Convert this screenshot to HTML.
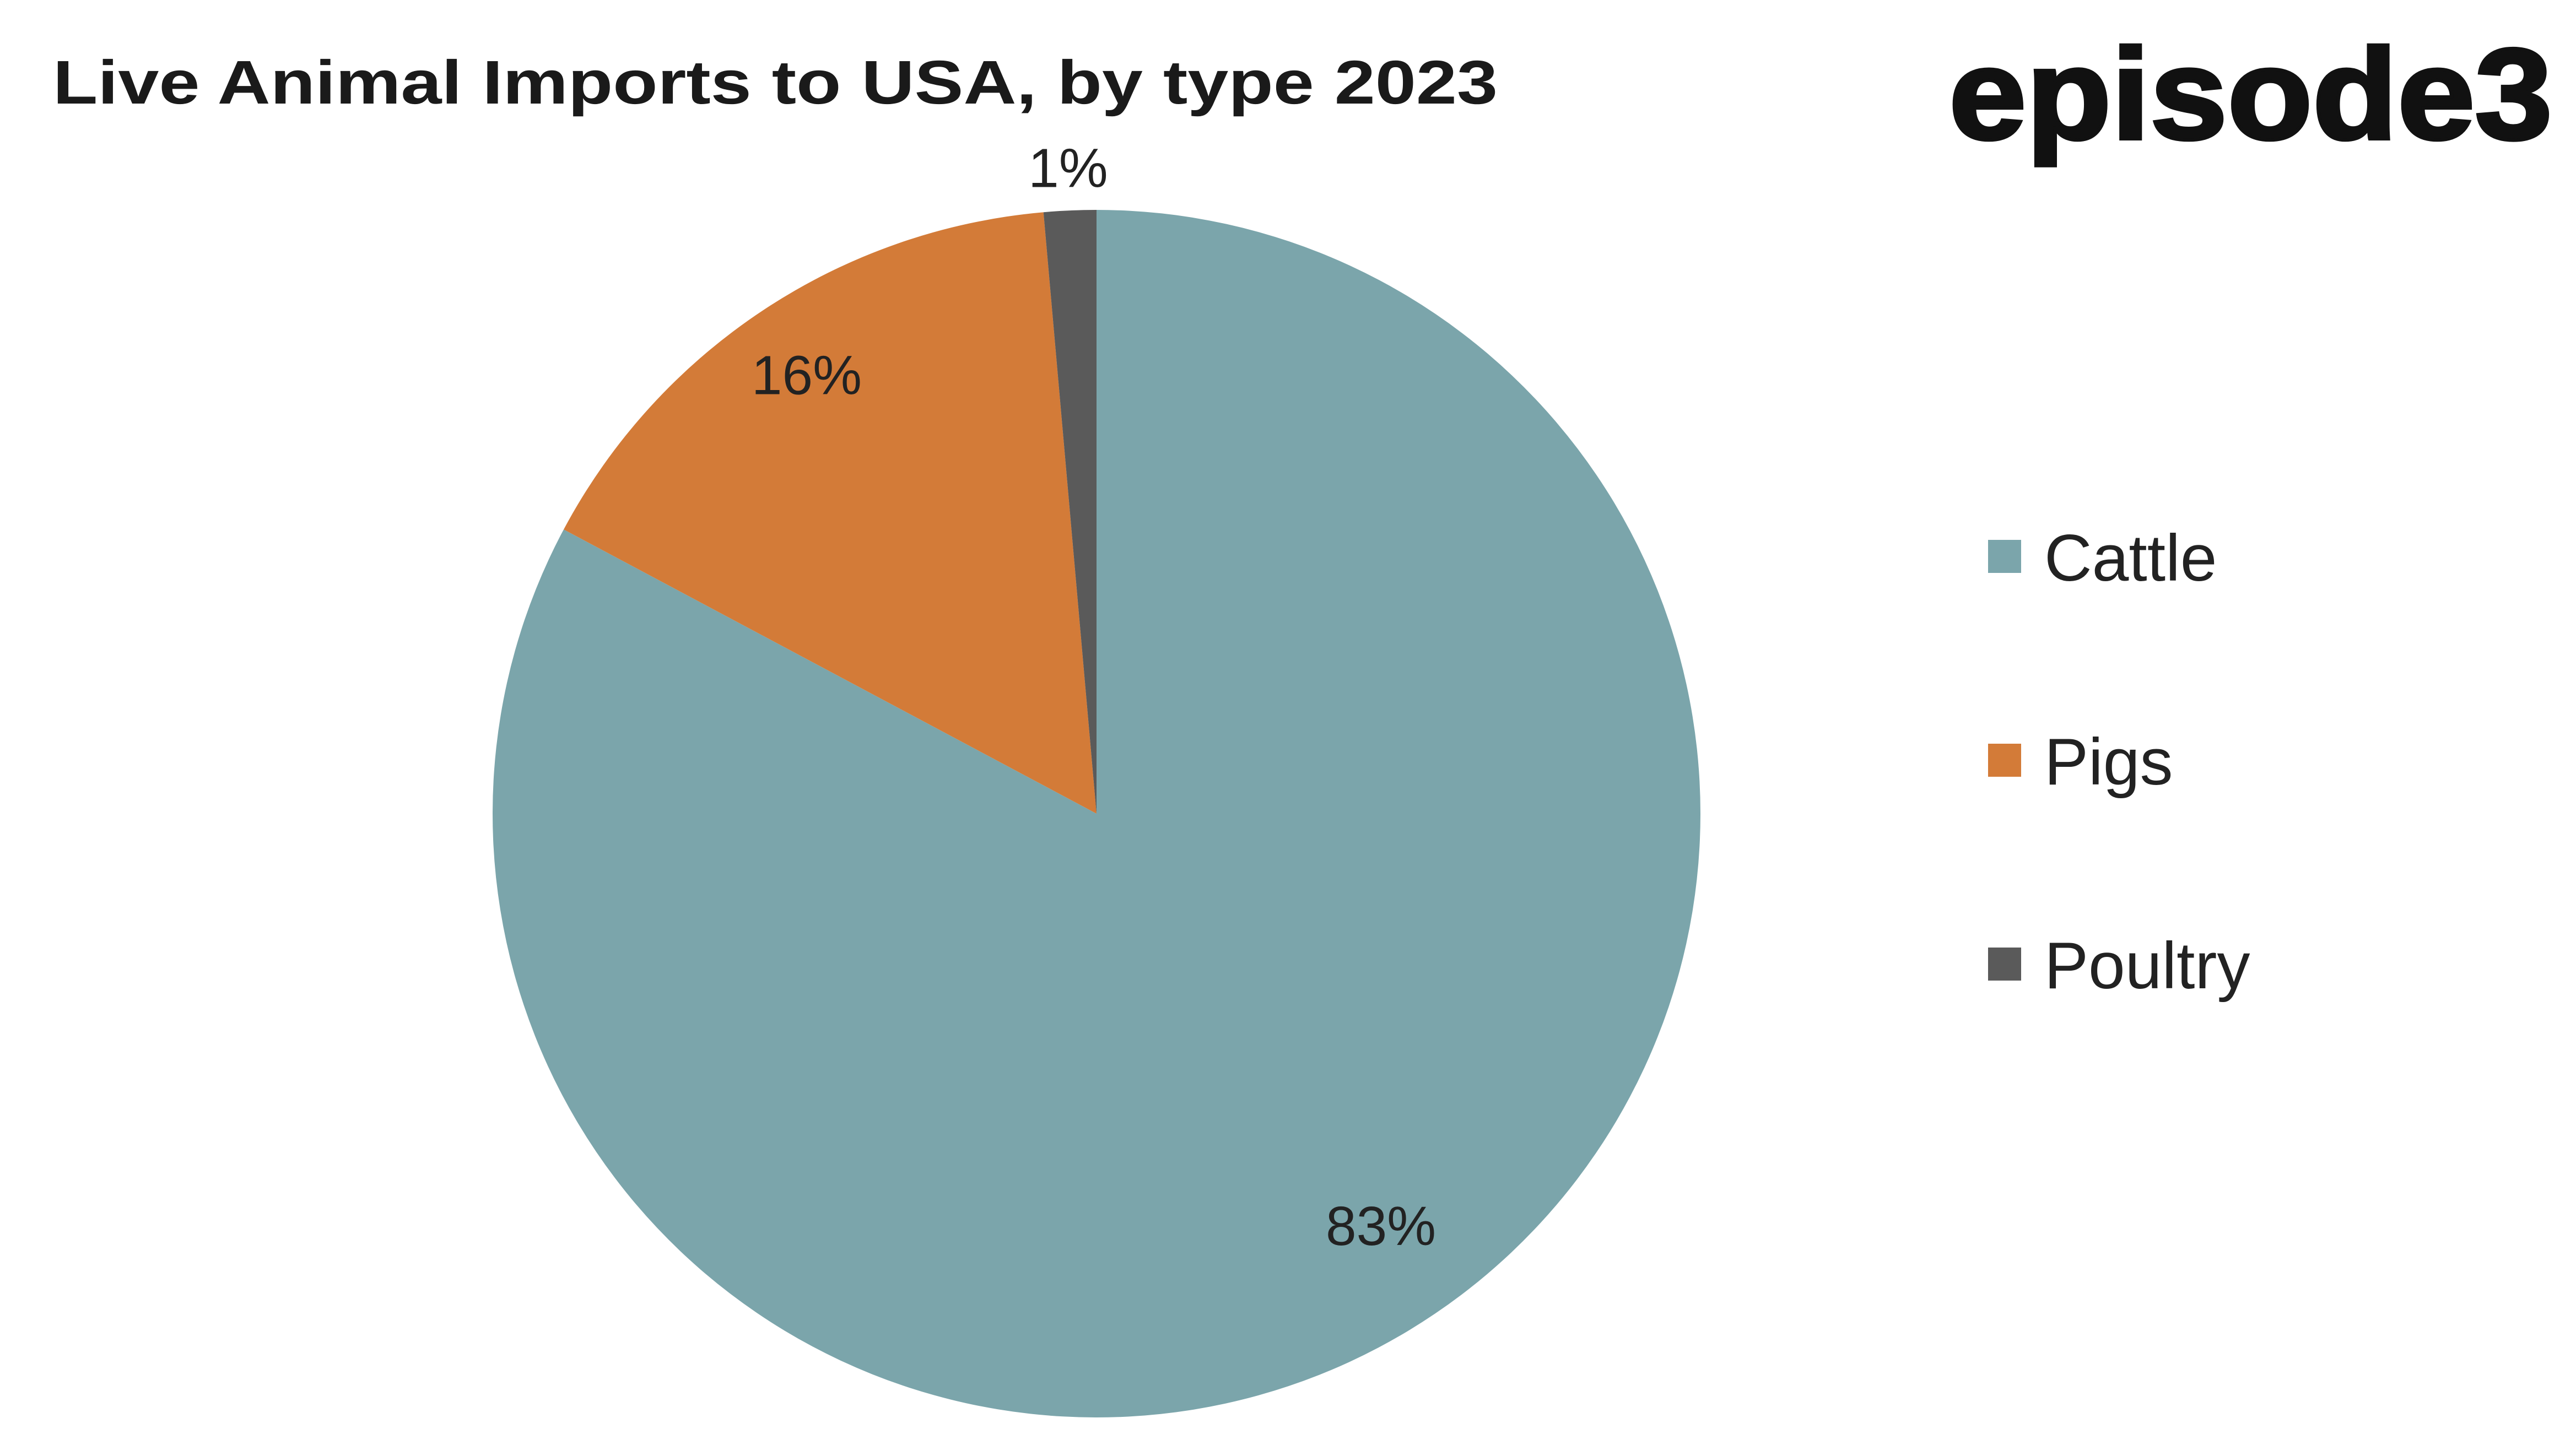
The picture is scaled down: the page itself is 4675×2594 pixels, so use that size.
<!DOCTYPE html>
<html><head><meta charset="utf-8">
<style>
html,body{margin:0;padding:0;background:#fff;}
svg{display:block;}
text{font-family:"Liberation Sans","DejaVu Sans",sans-serif;}
</style></head>
<body>
<svg id="chart" width="4675" height="2594" viewBox="0 0 4675 2594" xmlns="http://www.w3.org/2000/svg">
<rect width="4675" height="2594" fill="#ffffff"/>
<text x="96" y="188" font-size="112" font-weight="bold" fill="#1a1a1a" textLength="2622" lengthAdjust="spacingAndGlyphs">Live Animal Imports to USA, by type 2023</text>
<text x="3537" y="252" font-size="235" font-weight="bold" fill="#111" stroke="#111" stroke-width="6" textLength="1095" lengthAdjust="spacingAndGlyphs">episode3</text>
<g id="slices"></g>
<g id="labels"></g>
<g id="legend"></g>
</svg>
<script>
const categories = ["Cattle", "Pigs", "Poultry"];
const values = [82.8, 15.8, 1.4];
const valueLabels = ["83%", "16%", "1%"];
const colors = ["#7ba5ab", "#d37b38", "#5a5a5a"];

const NS = "http://www.w3.org/2000/svg";
const cx = 1990, cy = 1477, r = 1096;
const total = values.reduce((a, b) => a + b, 0);
const slices = document.getElementById("slices");
const labels = document.getElementById("labels");
const legend = document.getElementById("legend");
function pt(frac, rad) {
  const a = frac * 2 * Math.PI;
  return [cx + rad * Math.sin(a), cy - rad * Math.cos(a)];
}
let acc = 0;
const labelR = [0.83, 0.87, 1.07];
values.forEach((v, i) => {
  const f0 = acc / total, f1 = (acc + v) / total;
  acc += v;
  const [x0, y0] = pt(f0, r), [x1, y1] = pt(f1, r);
  const large = (f1 - f0) > 0.5 ? 1 : 0;
  const p = document.createElementNS(NS, "path");
  p.setAttribute("d", `M${cx},${cy} L${x0},${y0} A${r},${r} 0 ${large} 1 ${x1},${y1} Z`);
  p.setAttribute("fill", colors[i]);
  
  
  slices.appendChild(p);

  let mid = (f0 + f1) / 2;
  if (i === 0) mid -= 0.01;
  const [lx, ly] = pt(mid, r * labelR[i]);
  const t = document.createElementNS(NS, "text");
  t.setAttribute("x", lx); t.setAttribute("y", ly + 34);
  t.setAttribute("text-anchor", "middle");
  t.setAttribute("font-size", "100");
  t.setAttribute("fill", "#222");
  t.textContent = valueLabels[i];
  
  
  labels.appendChild(t);

  const ly2 = 1012 + i * 370;
  const sq = document.createElementNS(NS, "rect");
  sq.setAttribute("x", 3608); sq.setAttribute("y", ly2 - 32);
  sq.setAttribute("width", 60); sq.setAttribute("height", 60);
  sq.setAttribute("fill", colors[i]);
  
  
  legend.appendChild(sq);
  const lt = document.createElementNS(NS, "text");
  lt.setAttribute("x", 3710); lt.setAttribute("y", ly2 + 42);
  lt.setAttribute("font-size", "120");
  lt.setAttribute("fill", "#222");
  lt.textContent = categories[i];
  
  
  legend.appendChild(lt);
});
</script>
</body></html>
